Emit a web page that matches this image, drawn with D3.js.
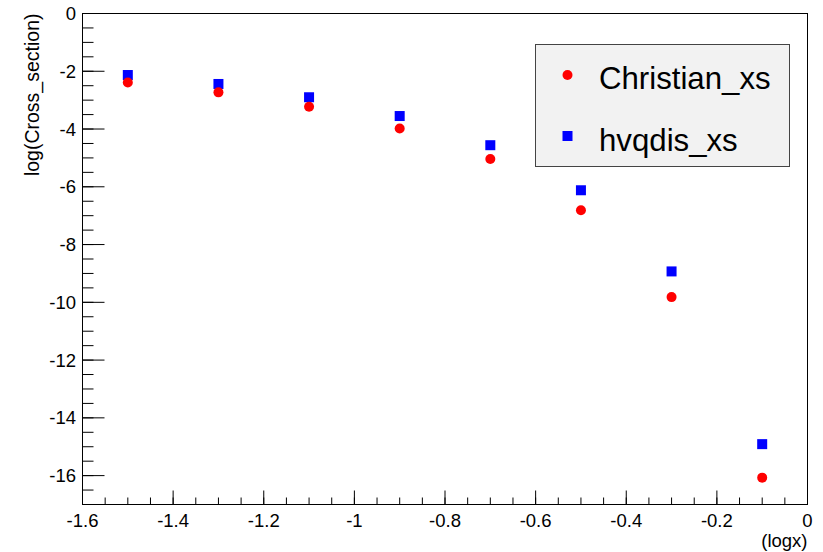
<!DOCTYPE html>
<html>
<head>
<meta charset="utf-8">
<script src="https://cdn.jsdelivr.net/npm/d3@7"></script>
<style>
  html, body { margin: 0; padding: 0; background: #fff; }
  svg { display: block; font-family: "Liberation Sans", Arial, Helvetica, sans-serif; }
</style>
</head>
<body>
<svg id="chart" width="823" height="552"></svg>
<script>
// ---- data ----
const logx = [-1.5, -1.3, -1.1, -0.9, -0.7, -0.5, -0.3, -0.1];
const christianXs = [-2.39, -2.73, -3.23, -3.98, -5.04, -6.81, -9.82, -16.07];
const hvqdisXs = [-2.13, -2.44, -2.90, -3.55, -4.56, -6.12, -8.93, -14.91];
const seriesNames = ["Christian_xs", "hvqdis_xs"];
const xTickValues = [-1.6, -1.4, -1.2, -1, -0.8, -0.6, -0.4, -0.2, 0];
const yTickValues = [0, -2, -4, -6, -8, -10, -12, -14, -16];
const xTitle = "(logx)";
const yTitle = "log(Cross_section)";

// ---- layout ----
const pLeft = 82.5, pRight = 807.5, pTop = 13.5, pBottom = 504.5;
const svg = d3.select("#chart");

const x = d3.scaleLinear().domain([-1.6, 0]).range([pLeft, pRight]);
const y = d3.scaleLinear().domain([-17, 0]).range([pBottom, pTop]);

// frame
svg.append("rect")
  .attr("x", pLeft).attr("y", pTop)
  .attr("width", pRight - pLeft).attr("height", pBottom - pTop)
  .attr("fill", "none").attr("stroke", "#000").attr("stroke-width", 1);

// minor ticks
const xMinor = d3.range(-1.6, 0.0001, 0.05).map(v => +v.toFixed(3));
const yMinor = d3.range(-17, 0.0001, 0.5).map(v => +v.toFixed(3));

const g = svg.append("g");
g.selectAll(".xminor").data(xMinor).enter().append("line")
  .attr("x1", d => x(d)).attr("x2", d => x(d))
  .attr("y1", pBottom).attr("y2", pBottom - 7)
  .attr("stroke", "#000").attr("stroke-width", 1);
g.selectAll(".xmajor").data(xTickValues).enter().append("line")
  .attr("x1", d => x(d)).attr("x2", d => x(d))
  .attr("y1", pBottom).attr("y2", pBottom - 14)
  .attr("stroke", "#000").attr("stroke-width", 1);
g.selectAll(".yminor").data(yMinor).enter().append("line")
  .attr("x1", pLeft).attr("x2", pLeft + 11)
  .attr("y1", d => y(d)).attr("y2", d => y(d))
  .attr("stroke", "#000").attr("stroke-width", 1);
g.selectAll(".ymajor").data(yTickValues).enter().append("line")
  .attr("x1", pLeft).attr("x2", pLeft + 22)
  .attr("y1", d => y(d)).attr("y2", d => y(d))
  .attr("stroke", "#000").attr("stroke-width", 1);

// tick labels
const fmt = v => (v === 0 ? "0" : String(+v.toFixed(1)));
g.selectAll(".xlab").data(xTickValues).enter().append("text")
  .attr("x", d => x(d)).attr("y", 520)
  .attr("text-anchor", "middle").attr("dominant-baseline", "central")
  .attr("font-size", 18.5).attr("fill", "#000")
  .text(fmt);
g.selectAll(".ylab").data(yTickValues).enter().append("text")
  .attr("x", 76).attr("y", d => y(d))
  .attr("text-anchor", "end").attr("dominant-baseline", "central")
  .attr("font-size", 18.5).attr("fill", "#000")
  .text(fmt);

// axis titles
svg.append("text")
  .attr("x", pRight).attr("y", 540)
  .attr("text-anchor", "end").attr("dominant-baseline", "central")
  .attr("font-size", 18.5).attr("fill", "#000")
  .text(xTitle);
svg.append("text")
  .attr("transform", `translate(32,${pTop}) rotate(-90)`)
  .attr("text-anchor", "end").attr("dominant-baseline", "central")
  .attr("font-size", 19.5).attr("fill", "#000")
  .text(yTitle);

// points
const pts = logx.map((v, i) => ({ x: v, c: christianXs[i], h: hvqdisXs[i] }));
svg.append("g").selectAll("rect").data(pts).enter().append("rect")
  .attr("x", d => x(d.x) - 5).attr("y", d => y(d.h) - 5)
  .attr("width", 10).attr("height", 10).attr("fill", "#0000ff");
svg.append("g").selectAll("circle").data(pts).enter().append("circle")
  .attr("cx", d => x(d.x)).attr("cy", d => y(d.c))
  .attr("r", 5).attr("fill", "#ff0000");

// legend
const leg = svg.append("g");
leg.append("rect")
  .attr("x", 535.5).attr("y", 44.5).attr("width", 254).attr("height", 122)
  .attr("fill", "#f2f2f2").attr("stroke", "#444").attr("stroke-width", 1);
leg.append("circle").attr("cx", 567.5).attr("cy", 75).attr("r", 5).attr("fill", "#ff0000");
leg.append("rect").attr("x", 562.5).attr("y", 131).attr("width", 10).attr("height", 10).attr("fill", "#0000ff");
leg.selectAll("text").data(seriesNames).enter().append("text")
  .attr("x", 599).attr("y", (d, i) => i === 0 ? 78 : 140)
  .attr("dominant-baseline", "central")
  .attr("font-size", 31.2).attr("fill", "#000")
  .text(d => d);
</script>
</body>
</html>
